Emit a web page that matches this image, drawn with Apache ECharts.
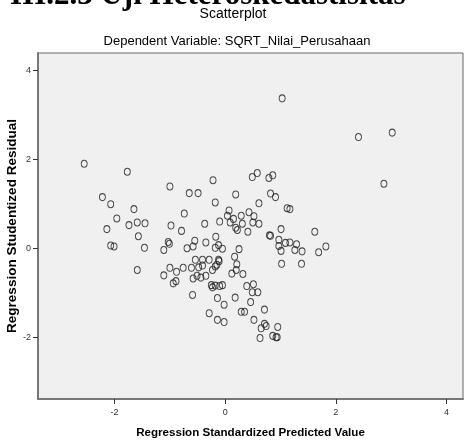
<!DOCTYPE html>
<html>
<head>
<meta charset="utf-8">
<script src="https://cdn.jsdelivr.net/npm/echarts@6/dist/echarts.min.js"></script>
<style>
html,body{margin:0;padding:0;background:#fff;}
#chart{width:464px;height:441px;}
</style>
</head>
<body>
<div id="chart"></div>
<script>
// Regression Standardized Predicted Value
const predicted = [
-2.55,-1.77,-1.00,-0.65,-0.49,-0.22,0.49,0.58,0.19,-2.22,
-2.07,-0.18,0.61,-1.65,-0.74,0.07,-1.96,-2.14,-1.74,-1.59,
-1.45,-0.98,-0.79,-0.37,-0.10,0.04,0.15,0.29,0.43,0.52,
0.09,0.19,0.22,0.31,0.50,0.61,0.41,-1.57,-0.17,-2.07,
-2.01,-1.46,-1.03,-1.01,-0.55,-0.35,-0.58,-0.69,-0.12,-0.05,
-0.18,0.25,-1.11,1.03,2.41,3.02,2.87,0.79,0.86,0.82,
0.91,1.12,1.17,1.01,1.62,0.80,0.82,0.97,1.09,1.17,
1.29,1.82,0.97,1.01,1.26,1.39,1.69,1.02,1.38,0.32,
0.39,0.51,0.49,0.59,0.46,0.29,0.35,0.71,0.52,0.71,
0.74,0.65,0.95,0.63,0.86,0.92,0.94,-1.59,-1.11,-1.00,
-0.88,-0.76,-0.94,-0.89,-0.61,-0.54,-0.41,-0.29,-0.48,-0.41,
-0.12,-0.11,-0.18,-0.15,-0.51,-0.44,-0.35,-0.58,-0.23,0.17,
0.21,0.12,0.20,-0.25,-0.23,-0.18,-0.10,-0.05,-0.59,-0.14,
-0.02,0.18,-0.29,-0.14,-0.02
];
// Regression Studentized Residual
const residual = [
1.90,1.72,1.39,1.24,1.24,1.53,1.60,1.69,1.21,1.15,
0.99,1.03,1.01,0.88,0.78,0.85,0.67,0.43,0.52,0.58,
0.56,0.51,0.39,0.55,0.60,0.73,0.66,0.73,0.81,0.72,
0.58,0.46,0.41,0.55,0.58,0.55,0.37,0.27,0.26,0.06,
0.04,0.01,0.14,0.10,0.17,0.13,0.04,0.00,0.07,-0.01,
0.01,-0.02,-0.04,3.37,2.50,2.60,1.45,1.58,1.64,1.23,
1.15,0.90,0.88,0.43,0.37,0.29,0.28,0.19,0.12,0.13,
0.09,0.04,0.05,-0.06,-0.04,-0.07,-0.09,-0.35,-0.35,-0.58,
-0.85,-0.81,-0.99,-0.99,-1.21,-1.43,-1.43,-1.38,-1.61,-1.70,
-1.75,-1.80,-1.77,-2.02,-1.97,-2.00,-2.00,-0.49,-0.61,-0.44,
-0.53,-0.44,-0.79,-0.74,-0.44,-0.26,-0.26,-0.26,-0.43,-0.39,
-0.26,-0.29,-0.41,-0.37,-0.62,-0.66,-0.62,-0.68,-0.49,-0.19,
-0.36,-0.57,-0.49,-0.83,-0.88,-0.84,-0.85,-0.83,-1.05,-1.12,
-1.27,-1.11,-1.46,-1.61,-1.66
];
const xTicks = [-2, 0, 2, 4];
const yTicks = [-2, 0, 2, 4];

const points = predicted.map((v, i) => [v, residual[i]]);

const chart = echarts.init(document.getElementById('chart'), null, {renderer: 'canvas'});
chart.setOption({
  animation: false,
  backgroundColor: '#fff',
  graphic: [{
    type: 'text',
    left: 10,
    top: -20,
    style: {
      text: 'III.2.3 Uji Heteroskedastisitas',
      font: 'bold 31px "Liberation Serif"',
      fill: '#000'
    }
  }],
  title: [{
    text: 'Scatterplot',
    left: 233,
    textAlign: 'center',
    top: 7,
    padding: 0,
    textStyle: {fontFamily: 'Liberation Sans', fontSize: 14, fontWeight: 'normal', color: '#000'}
  }, {
    text: 'Dependent Variable: SQRT_Nilai_Perusahaan',
    left: 237,
    textAlign: 'center',
    top: 35,
    padding: 0,
    textStyle: {fontFamily: 'Liberation Sans', fontSize: 13, fontWeight: 'normal', color: '#000'}
  }],
  grid: {
    left: 38, right: 1, top: 53, bottom: 42,
    outerBoundsMode: 'none',
    containLabel: false,
    show: true, backgroundColor: '#f0f0f0', borderColor: '#666', borderWidth: 1
  },
  xAxis: {
    type: 'value',
    min: -3.385, max: 4.30,
    name: 'Regression Standardized Predicted Value',
    nameLocation: 'middle',
    nameGap: 28,
    nameMoveOverlap: false,
    nameTextStyle: {fontFamily: 'Liberation Sans', fontSize: 11.6, fontWeight: 'bold', color: '#000'},
    axisLine: {show: true, onZero: false, lineStyle: {color: '#777', width: 2}},
    axisTick: {show: true, length: 5, lineStyle: {color: '#333'}, customValues: xTicks},
    axisLabel: {fontFamily: 'Liberation Sans', fontSize: 9, color: '#333', margin: 9, customValues: xTicks},
    splitLine: {show: false}
  },
  yAxis: {
    type: 'value',
    min: -3.39, max: 4.39,
    name: 'Regression Studentized Residual',
    nameLocation: 'middle',
    nameGap: 19,
    nameMoveOverlap: false,
    nameTextStyle: {fontFamily: 'Liberation Sans', fontSize: 13.5, fontWeight: 'bold', color: '#000'},
    axisLine: {show: true, onZero: false, lineStyle: {color: '#777', width: 2}},
    axisTick: {show: true, length: 5, lineStyle: {color: '#333'}, customValues: yTicks},
    axisLabel: {fontFamily: 'Liberation Sans', fontSize: 9, color: '#333', margin: 7, customValues: yTicks},
    splitLine: {show: false}
  },
  series: [{
    type: 'scatter',
    data: points,
    symbol: 'circle',
    symbolSize: [6, 7],
    itemStyle: {color: 'rgba(0,0,0,0)', borderColor: '#222', borderWidth: 1},
    silent: true
  }]
});
</script>
</body>
</html>
